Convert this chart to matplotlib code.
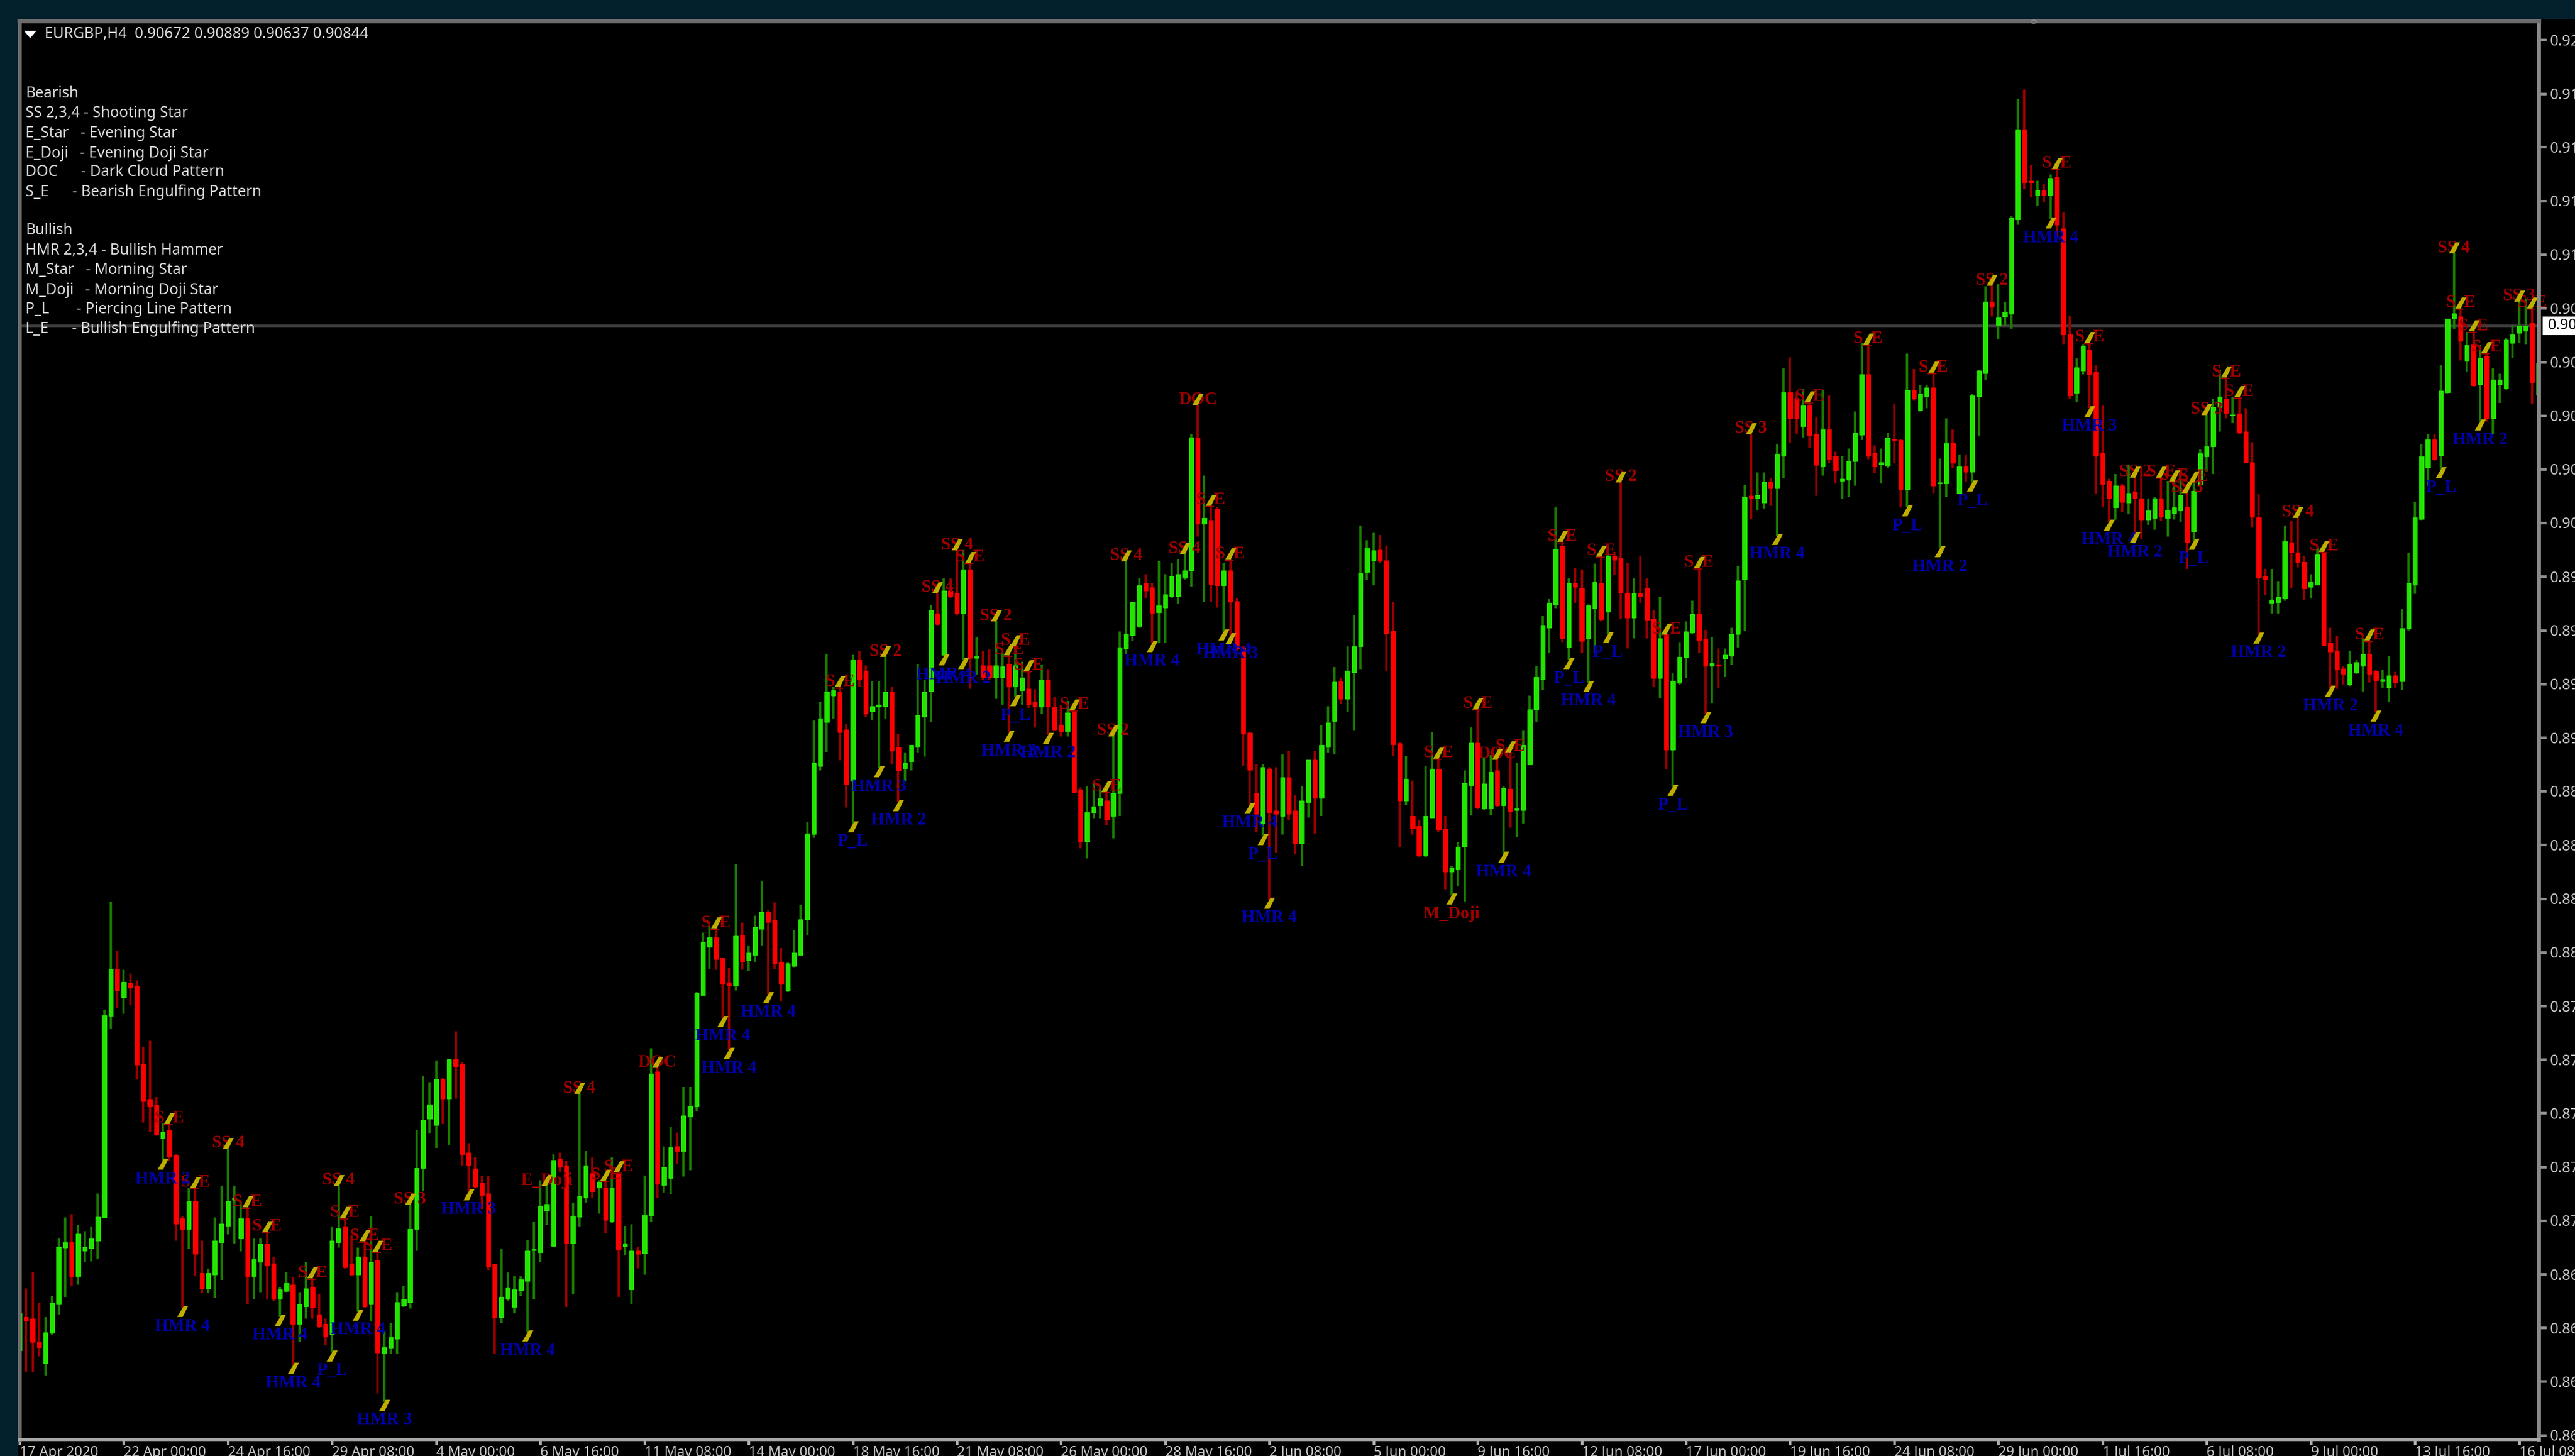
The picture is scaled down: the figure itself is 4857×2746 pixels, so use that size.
import numpy as np
import matplotlib
matplotlib.use("Agg")
import matplotlib.pyplot as plt
from matplotlib.patches import Rectangle
from matplotlib.path import Path
from matplotlib.transforms import blended_transform_factory

# prices in points (1e-5)
high_a = [86769,86814,86884,86754,86695,86784,87022,87111,87126,87081,
87055,87074,87212,87980,88432,88228,88147,88133,88104,87827,
87850,87616,87505,87505,87378,87118,87234,87237,87014,86896,
87111,87245,87401,87245,87178,87156,87022,87022,87052,86948,
86821,86884,86863,86799,86925,86858,86789,86687,87074,87245,
87111,87037,86985,87014,87118,86970]
low_a = [86494,86465,86465,86531,86450,86621,86705,86780,86824,86829,
86925,86928,86937,87107,87899,87988,87965,88000,87691,87509,
87468,87453,87349,87349,87014,86732,86980,86866,86794,86794,
86774,86851,87041,87003,86970,86747,86769,86799,86769,86762,
86695,86799,86494,86591,86687,86687,86650,86576,86546,86985,
86896,86866,86717,86735,86680,86375]
open_a = [86554,86695,86687,86591,86502,86628,86747,86985,87007,86866,
86973,86982,87014,87111,87955,88151,88032,88092,88081,87753,
87606,87582,87442,87478,87371,87107,87062,87181,86878,86814,
86873,87007,87077,87185,87022,87107,86866,86925,87000,86918,
86769,86803,86829,86665,86740,86821,86705,86665,86621,87007,
87074,86918,86873,86948,86747,86933]
close_a = [86710,86680,86591,86569,86631,86754,86988,87007,86866,87044,
86988,87022,87115,87958,88151,88062,88096,88072,87750,87597,
87576,87457,87468,87364,87086,87063,87181,86958,86814,86878,
87014,87086,87181,87193,87107,86866,86937,87000,86910,86769,
86809,86836,86665,86747,86814,86735,86655,86613,87014,87066,
86903,86873,86948,86740,86925,86546]

high_b = [86637,86670,86798,86825,87167,87477,87701,87678,87768,87698,
87775,87890,87763,87423,87362,87286,87286,86919,86979,86881,
86865,86865,87016,87093,87268,87244,87376,87382,87349,87174,
87631,87389,87362,87268,87268,87362,87302,87076,87083,86989,
87288,87819,87739,87409,87490,87466,87658,87658,88054,88303,
88330,88323,88198,88155,88589]
low_b = [86340,86542,86542,86737,86731,86973,87221,87463,87403,87503,
87416,87608,87329,87221,87235,87147,86892,86542,86670,86764,
86710,86784,86630,86771,86925,87080,86993,87302,86737,86791,
87073,87174,87194,87127,87046,87087,86780,86952,86751,86899,
86872,87093,87194,87217,87210,87335,87282,87309,87557,88041,
88153,88149,87947,87813,88061]
open_b = [86542,86563,86603,86744,86757,87063,87319,87524,87499,87692,
87608,87772,87752,87382,87315,87255,87212,86916,86693,86771,
86737,86805,86845,86975,86966,87141,86993,87356,87329,87002,
87114,87194,87295,87235,87235,87093,87295,86989,86811,86973,
86962,87118,87722,87248,87275,87409,87389,87534,87575,88041,
88243,88283,88196,88095,88081]
close_b = [86569,86610,86757,86771,87063,87319,87521,87584,87692,87608,
87772,87743,87376,87329,87241,87204,86905,86693,86778,86818,
86811,86852,86973,86979,87161,87167,87352,87322,87002,87118,
87201,87329,87221,87261,87100,87235,86979,87002,86973,86959,
87120,87714,87252,87322,87405,87389,87537,87577,88050,88263,
88283,88193,88088,88081,88290]

high_c = [88345,88251,88374,88520,88397,88431,88238,88181,88315,88419,
88768,89192,89269,89471,89333,89333,89177,89466,89481,89422,
89355,89355,89459,89333,89135,89058,89088,89429,89362,89674,
89726,89786,89786,89905,89905,89853,89541,89481,89489,89608,
89474,89466,89504,89437,89400,89322,89426,89407,89288,89258,
89273,89236,88912,88917,88932,88909]
low_c = [88148,88144,88181,88251,88047,88151,88015,88055,88159,88211,
88293,88701,88983,89061,89199,89025,88827,88761,89333,89206,
89192,88991,89199,89006,88850,88939,88983,89058,89040,89184,
89590,89459,89704,89630,89444,89325,89385,89362,89362,89281,
89258,89140,89288,89258,89244,89162,89218,89132,89147,89125,
89125,88887,88657,88615,88783,88783]
open_c = [88293,88188,88211,88318,88389,88356,88181,88062,88163,88211,
88359,88716,89001,89184,89296,89310,89154,88939,89444,89400,
89229,89248,89251,89310,89080,88991,89021,89080,89206,89313,
89640,89466,89734,89726,89640,89823,89452,89422,89422,89370,
89370,89429,89333,89318,89325,89269,89248,89362,89248,89174,
89147,89229,88902,88686,88805,88835]
close_c = [88181,88218,88327,88389,88347,88174,88089,88174,88218,88359,
88719,89013,89199,89310,89318,89142,88924,89444,89362,89221,
89251,89258,89310,89065,88983,89013,89088,89214,89310,89652,
89596,89734,89712,89640,89823,89452,89459,89370,89370,89422,
89417,89333,89422,89370,89258,89248,89362,89248,89154,89147,
89224,88891,88686,88808,88832,88865]

high_d = [88894,89127,89563,89859,89688,89789,89804,89766,89859,89804,
89851,89867,89890,90391,90513,90217,90092,90085,89851,89867,
89703,89501,89143,89010,89010,88995,88995,89049,89065,88878,
88917,89026,89065,89174,89252,89415,89368,89501,89633,90007,
89945,89976,89968,89924,89688,89099,89042,88940,88777,89003,
89143,89034,88792,88582,88683]
low_d = [88753,88699,88792,89470,89524,89579,89703,89516,89516,89516,
89703,89680,89781,89753,89960,89688,89688,89664,89563,89548,
89485,89003,88839,88722,88707,88442,88637,88715,88777,88632,
88582,88785,88718,88792,89057,89049,89259,89228,89150,89407,
89778,89758,89851,89400,89042,88660,88839,88715,88621,88621,
88785,88722,88486,88458,88497]
open_d = [88855,88792,88886,89493,89548,89586,89766,89747,89644,89664,
89711,89711,89789,89820,90373,90015,90030,90077,89758,89820,
89691,89498,89140,88886,88761,88990,88813,88792,88953,88813,
88676,88850,89026,88866,89080,89189,89356,89283,89392,89501,
89812,89862,89906,89862,89566,89096,88855,88792,88750,88626,
88785,88987,88738,88559,88567]
close_d = [88777,88886,89498,89555,89688,89758,89734,89641,89672,89719,
89794,89804,89820,90376,90015,90038,89762,89758,89820,89688,
89493,89135,88984,88800,88995,88808,88800,88953,88800,88676,
88855,89026,88866,89088,89182,89353,89283,89400,89501,89809,
89913,89903,89859,89555,89091,88855,88948,88741,88626,88792,
88990,88735,88559,88574,88663]

high_e = [88983,89162,89240,89038,89046,89030,88916,89061,89014,89150,
89295,89419,89629,89699,90084,89941,89785,89829,89824,89676,
89847,89879,89886,89897,90190,89850,89785,89882,89785,89653,
89707,89552,89388,89520,89606,89692,89832,89570,89539,89492,
89492,89580,89840,90177,90392,90229,90229,90205,90349,90665,
90712,90564,90579,90525,90462]
low_e = [88434,88796,88820,88817,88796,88832,88633,88742,88703,88761,
89007,89186,89318,89474,89661,89520,89443,89684,89474,89349,
89474,89606,89552,89801,89614,89492,89536,89684,89536,89334,
89287,88988,88913,89341,89368,89552,89474,89217,89264,89326,
89372,89424,89497,89567,90034,90073,90078,90089,89964,90205,
90353,90392,90377,90333,90131]
open_e = [88664,88921,89097,88823,88823,88983,88835,88905,88817,88817,
89007,89237,89365,89580,89676,89922,89497,89766,89746,89536,
89661,89766,89645,89879,89871,89726,89622,89723,89746,89617,
89368,89552,89069,89349,89455,89559,89637,89533,89419,89427,
89450,89461,89552,89782,90131,90120,90104,90190,90162,90299,
90564,90540,90423,90509,90392]
close_e = [88929,89097,88827,88926,88975,88835,88910,88812,88823,89088,
89237,89372,89590,89684,89907,89536,89766,89751,89524,89673,
89770,89614,89882,89863,89726,89622,89723,89710,89611,89368,
89536,89069,89357,89458,89564,89637,89528,89419,89430,89419,
89466,89552,89777,90128,90120,90135,90190,90162,90307,90564,
90455,90455,90509,90385,90260]

high_f = [90574,90551,90317,90299,90329,90485,90774,90767,90343,90329,
90395,90519,90370,90727,90663,90596,90596,90648,90287,90455,
90410,90306,90306,90559,90658,91009,91012,91020,90941,91302,
91792,91832,91517,91450,91440,91476,91502,91317,90886,90707,
90767,90774,90678,90510,90202,90222,90180,90262,90210,90254,
90121,90128,90210,90195,90195,90232]
low_f = [90217,90269,90183,90118,90128,90173,90366,90284,90228,90183,
90247,90269,90083,90083,90529,90485,90499,90143,89912,90128,
90247,90143,90192,90187,90381,90618,90881,90786,90841,90831,
91265,91416,91381,91346,91361,91287,91220,90767,90537,90522,
90641,90499,90138,90083,90024,90031,90064,90054,89972,89950,
90009,89990,90028,89960,90031,90024]
open_f = [90254,90410,90299,90195,90198,90277,90388,90641,90311,90262,
90257,90370,90366,90158,90574,90489,90548,90584,90183,90183,
90351,90143,90254,90232,90548,90644,90945,90846,90881,90893,
91287,91666,91450,91391,91410,91391,91465,91250,90807,90563,
90655,90742,90648,90311,90195,90083,90173,90103,90150,90121,
90031,90039,90121,90039,90058,90069]
close_f = [90410,90284,90239,90202,90277,90395,90641,90299,90254,90272,
90373,90366,90158,90574,90537,90559,90584,90173,90187,90351,
90269,90254,90232,90551,90655,90945,90923,90878,90901,91294,
91666,91443,91443,91410,91391,91461,91265,90807,90551,90670,
90759,90641,90299,90180,90121,90173,90106,90143,90121,90031,
90069,90121,90043,90073,90083,90135]

high_g = [90145,90190,90326,90472,90539,90658,90628,90546,90546,90499,
90356,90138,89826,89826,89774,90008,90026,90041,89878,89803,
89915,89900,89580,89543,89420,89484,89444,89536,89528,89402,
89405,89461,89395,89658,89892,90108,90350,90390,90390,90677,
90873,91148,90918,90817,90821,90762,90732,90665,90643,90791,
90846,90947,90955,90918,90687]
low_g = [89826,89944,90175,90234,90222,90401,90457,90435,90390,90267,
89999,89551,89714,89640,89640,89692,89744,89833,89696,89702,
89759,89503,89328,89325,89343,89335,89387,89313,89350,89224,
89328,89268,89328,89320,89569,89722,90029,90175,90279,90242,
90561,90832,90698,90650,90588,90442,90442,90390,90520,90576,
90710,90772,90766,90517,90554]
open_g = [90086,89982,90178,90297,90338,90502,90539,90469,90475,90401,
90271,90041,89796,89684,89687,89702,89937,89895,89855,89751,
89759,89892,89514,89484,89409,89343,89390,89420,89469,89398,
89355,89328,89380,89355,89577,89759,90034,90249,90368,90301,
90564,90873,90881,90695,90766,90598,90717,90457,90598,90583,
90772,90814,90821,90855,90554]
close_g = [89937,90152,90309,90338,90502,90546,90479,90472,90395,90271,
90044,89788,89781,89696,89707,89940,89895,89855,89744,89771,
89885,89506,89479,89405,89387,89429,89435,89469,89387,89360,
89365,89380,89350,89577,89766,90041,90297,90368,90286,90572,
90873,90895,90781,90762,90594,90710,90457,90618,90618,90784,
90806,90843,90843,90606,90687]

bear_labels = [(23,"S_E"),(27,"S_E"),(32,"SS 4"),(35,"S_E"),(38,"S_E"),(45,"S_E"),(49,"SS 4"),(50,"S_E"),(53,"S_E"),(55,"S_E"),
(60,"SS 3"),(81,"E_Doji"),(86,"SS 4"),(90,"S_E"),(92,"S_E"),(98,"DOC"),(107,"S_E"),(126,"S_E"),(133,"SS 2"),(141,"SS 4"),
(144,"SS 4"),(146,"S_E"),(150,"SS 2"),(152,"S_E"),(153,"S_E"),(155,"S_E"),(162,"S_E"),(167,"S_E"),(168,"SS 2"),(170,"SS 4"),
(179,"SS 4"),(181,"DOC"),(183,"S_E"),(186,"S_E"),(218,"S_E"),(224,"S_E"),(227,"DOC"),(229,"S_E"),(237,"S_E"),(243,"S_E"),
(246,"SS 2"),(253,"S_E"),(258,"S_E"),(266,"SS 3"),(275,"S_E"),(284,"S_E"),(294,"S_E"),(303,"SS 2"),(313,"S_E"),(318,"S_E"),
(325,"SS 2"),(329,"S_E"),(331,"S_E"),(333,"SS 3"),(334,"S_E"),(336,"SS 3"),(339,"S_E"),(341,"S_E"),(350,"SS 4"),(354,"S_E"),
(361,"S_E"),(374,"SS 4"),(375,"S_E"),(377,"S_E"),(379,"S_E"),(384,"SS 3"),(386,"S_E")]
bull_labels = [(22,"HMR 2"),(25,"HMR 4"),(40,"HMR 4"),(42,"HMR 4"),(48,"P_L"),(52,"HMR 4"),(56,"HMR 3"),(69,"HMR 3"),(78,"HMR 4"),
(108,"HMR 4"),(109,"HMR 4"),(115,"HMR 4"),(128,"P_L"),(132,"HMR 3"),(135,"HMR 2"),(142,"HMR 4"),(145,"HMR 2"),(152,"HMR 3"),(153,"P_L"),
(158,"HMR 2"),(174,"HMR 4"),(185,"HMR 4"),(186,"HMR 3"),(189,"HMR 4"),(191,"P_L"),(192,"HMR 4"),(228,"HMR 4"),(238,"P_L"),(241,"HMR 4"),
(244,"P_L"),(254,"P_L"),(259,"HMR 3"),(270,"HMR 4"),(290,"P_L"),(295,"HMR 2"),(300,"P_L"),(312,"HMR 4"),(318,"HMR 3"),(321,"HMR 4"),
(325,"HMR 2"),(334,"P_L"),(344,"HMR 2"),(355,"HMR 2"),(362,"HMR 4"),(372,"P_L"),(378,"HMR 2")]
doji_labels = [(220,"M_Doji")]

date_labels = ["17 Apr 2020","22 Apr 00:00","24 Apr 16:00","29 Apr 08:00","4 May 00:00","6 May 16:00","11 May 08:00",
"14 May 00:00","18 May 16:00","21 May 08:00","26 May 00:00","28 May 16:00","2 Jun 08:00","5 Jun 00:00","9 Jun 16:00",
"12 Jun 08:00","17 Jun 00:00","19 Jun 16:00","24 Jun 08:00","29 Jun 00:00","1 Jul 16:00","6 Jul 08:00","9 Jul 00:00",
"13 Jul 16:00","16 Jul 08:00"]
price_ticks = [92040,91815,91591,91366,91142,90917,90692,90468,90243,90019,89794,89569,89345,89120,88896,88671,
88446,88222,87997,87773,87548,87323,87099,86874,86650,86425,86200]
bars_per_date = 16
current_price = 90844
header = "EURGBP,H4  0.90672 0.90889 0.90637 0.90844"
legend_bear = ["Bearish","SS 2,3,4 - Shooting Star","E_Star   - Evening Star","E_Doji   - Evening Doji Star",
"DOC      - Dark Cloud Pattern","S_E      - Bearish Engulfing Pattern"]
legend_bull = ["Bullish","HMR 2,3,4 - Bullish Hammer","M_Star   - Morning Star","M_Doji   - Morning Doji Star",
"P_L       - Piercing Line Pattern","L_E      - Bullish Engulfing Pattern"]

SCALE = 1e-5
groups = {
 "a": (open_a, high_a, low_a, close_a), "b": (open_b, high_b, low_b, close_b),
 "c": (open_c, high_c, low_c, close_c), "d": (open_d, high_d, low_d, close_d),
 "e": (open_e, high_e, low_e, close_e), "f": (open_f, high_f, low_f, close_f),
 "g": (open_g, high_g, low_g, close_g)}
for k, g in groups.items():
    ls = [len(x) for x in g]
    if len(set(ls)) != 1:
        raise ValueError(f"{k}: {ls}")
op = np.concatenate([g[0] for g in groups.values()]) * SCALE
hi = np.concatenate([g[1] for g in groups.values()]) * SCALE
lo = np.concatenate([g[2] for g in groups.values()]) * SCALE
cl = np.concatenate([g[3] for g in groups.values()]) * SCALE
xs = np.arange(len(op))
up = cl >= op

W, H, DPI = 4857, 2746, 100
TEAL = "#02202c"
fig = plt.figure(figsize=(W/DPI, H/DPI), dpi=DPI, facecolor="black")
def fx(px): return px / W
def fy(py): return 1 - py / H
fig.add_artist(Rectangle((0, 0), fx(34), 1, transform=fig.transFigure, color=TEAL, lw=0, zorder=-5))
fig.add_artist(Rectangle((0, fy(36)), 1, 36/H, transform=fig.transFigure, color=TEAL, lw=0, zorder=-5))

L, R, T, B = 37, 4789, 40, 2715
ax = fig.add_axes([fx(L), fy(B), (R-L)/W, (B-T)/H], facecolor="black")
BAR_PX = 12.28
ax.set_xlim((L-36)/BAR_PX, (R-36)/BAR_PX)
ax.set_ylim(0.86182, 0.92118)

ax.axhline(current_price*SCALE, color="#3c3c3c", lw=3.5, zorder=1)

GREEN, GREEN_W = "#22e400", "#1a7c00"
RED, RED_W = "#ff0000", "#990000"
ax.vlines(xs[up], lo[up], hi[up], color=GREEN_W, lw=3.2, zorder=2)
ax.vlines(xs[~up], lo[~up], hi[~up], color=RED_W, lw=3.2, zorder=2)
ax.bar(xs[up], (cl-op)[up], bottom=op[up], width=0.68, color=GREEN, edgecolor=GREEN, lw=0.8, zorder=3)
ax.bar(xs[~up], (cl-op)[~up], bottom=op[~up], width=0.68, color=RED, edgecolor=RED, lw=0.8, zorder=3)

mark = Path([(-1.0,-1.0),(0.0,-1.0),(1.0,1.0),(0.2,1.0),(-1.0,-1.0)], closed=True)
YEL = "#bfae00"
SERIF = "Liberation Serif"
def put(i, price, text, col, dy_mark, dy_text):
    ax.annotate(text, xy=(i, price), xytext=(0, dy_text), textcoords="offset pixels", ha="center", va="center",
                color=col, fontsize=23.5, family=SERIF, fontweight="bold", zorder=5)
    ax.plot([i], [price], marker=mark, ms=15, color=YEL, mew=0, zorder=6,
            transform=ax.transData + matplotlib.transforms.Affine2D().translate(0, dy_mark))
for i, t in bear_labels:
    put(i, hi[i], t, "#a00000", 10, 10)
for i, t in bull_labels:
    put(i, lo[i], t, "#0000a8", -6, -34)
for i, t in doji_labels:
    put(i, lo[i], t, "#a00000", -6, -34)

ax.yaxis.tick_right()
ax.set_yticks(np.array(price_ticks)*SCALE)
ax.set_yticklabels([f"{p*SCALE:.5f}" for p in price_ticks], family="Noto Sans", fontsize=20, color="#c4c4c4")
ax.set_xticks(np.arange(len(date_labels))*bars_per_date)
ax.set_xticklabels(date_labels, family="Noto Sans", fontsize=19, color="#c4c4c4", ha="left")
ax.tick_params(axis="y", length=10, width=3.5, color="#909090", pad=5)
ax.tick_params(axis="x", length=7, width=3.5, color="#b0b0b0", pad=1)
for s, c, w in (("left","#6c6c6c",5),("top","#6c6c6c",6),("right","#8a8a8a",5.5),("bottom","#a8a8a8",4)):
    ax.spines[s].set_color(c); ax.spines[s].set_linewidth(w); ax.spines[s].set_zorder(8)

# current price box
tr = blended_transform_factory(ax.transAxes, ax.transData)
ax.add_patch(Rectangle((1.0015, (current_price-40)*SCALE), 0.016, 78*SCALE, transform=tr, color="white", lw=0, clip_on=False, zorder=9))
ax.text(1.0036, current_price*SCALE, f"{current_price*SCALE:.5f}", transform=tr, color="black", fontsize=20,
        family="Noto Sans", va="center", ha="left", clip_on=False, zorder=10)

# legend and header
TXT = "#d6d6d6"
def ftext(px, py, s, size=20.4):
    fig.text(fx(px), fy(py), s, color=TXT, fontsize=size, family="Noto Sans", va="center", ha="left", zorder=20)
ftext(84, 64, header)
fig.add_artist(plt.Polygon([[fx(45),fy(58)],[fx(69),fy(58)],[fx(57),fy(72)]], closed=True, transform=fig.transFigure, color="white", lw=0, zorder=20))
for s, py in zip(legend_bear, (177,214,252,289,325,362)):
    ftext(48, py, s)
for s, py in zip(legend_bull, (434,472,510,547,584,620)):
    ftext(48, py, s)
# small chart-shift mark on the top border
fig.add_artist(plt.Circle((fx(3836), fy(41)), 5/W, transform=fig.transFigure, fill=False, ec="#8a8a8a", lw=1.5, zorder=20))

fig.savefig("out.png", dpi=DPI, facecolor=fig.get_facecolor())
